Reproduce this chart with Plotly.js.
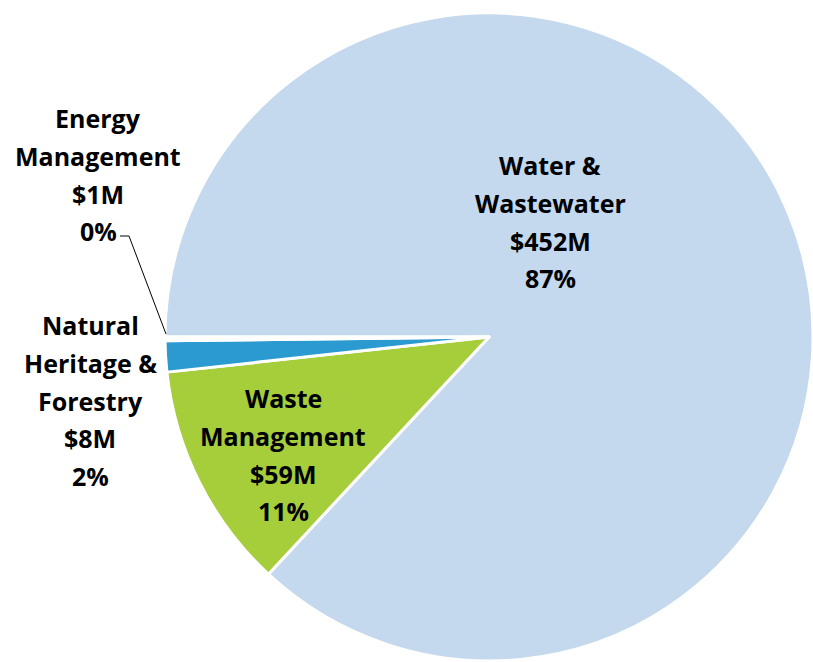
<!DOCTYPE html>
<html>
<head>
<meta charset="utf-8">
<script src="https://cdn.plot.ly/plotly-3.0.1.min.js"></script>
<style>html,body{margin:0;padding:0;background:#fff;}#chart{width:813px;height:662px;}</style>
</head>
<body>
<div id="chart"></div>
<script>
// ---- data ----
var categories = ['Water &<br>Wastewater', 'Waste<br>Management', 'Natural<br>Heritage &<br>Forestry', 'Energy<br>Management'];
var valuesM = [452, 59, 8, 1];
var sliceColors = ['#C4D9EE', '#A6CD3A', '#2B9AD0', '#FFFFFF'];

// ---- layout helpers (pixel positions of label blocks) ----
var W = 813, H = 662;
var labelPos = [
  {x: 550, y: 165},
  {x: 283, y: 398},
  {x: 90,  y: 325},
  {x: 98,  y: 118}
];
var lineStep = 37.8;
var total = valuesM.reduce(function(a, b){ return a + b; }, 0);

var annotations = [];
categories.forEach(function(cat, i){
  var lines = cat.split('<br>');
  lines.push('$' + valuesM[i] + 'M');
  lines.push(Math.round(valuesM[i] / total * 100) + '%');
  lines.forEach(function(t, k){
    annotations.push({
      text: t, xref: 'paper', yref: 'paper',
      x: labelPos[i].x / W, y: 1 - (labelPos[i].y + k * lineStep) / H,
      xanchor: 'center', yanchor: 'middle', showarrow: false,
      font: {family: 'Open Sans, sans-serif', size: 25, color: '#000000', weight: 'bold'}
    });
  });
});

function px(x){ return (x / W).toFixed(5); }
function py(y){ return (1 - y / H).toFixed(5); }
var leader = 'M ' + px(120) + ' ' + py(236) + ' L ' + px(129) + ' ' + py(236) + ' L ' + px(166) + ' ' + py(334);

var trace = {
  type: 'pie',
  labels: categories,
  values: valuesM,
  sort: false,
  direction: 'clockwise',
  rotation: 270,
  textinfo: 'none',
  hoverinfo: 'label+value+percent',
  marker: {colors: sliceColors, line: {color: '#FFFFFF', width: 3}},
  domain: {x: [165 / W, 1], y: [0.0, 0.982]},
  showlegend: false
};

var layout = {
  width: W, height: H,
  margin: {l: 0, r: 0, t: 0, b: 0},
  paper_bgcolor: '#FFFFFF',
  showlegend: false,
  annotations: annotations,
  shapes: [{type: 'path', xref: 'paper', yref: 'paper', path: leader, line: {color: '#000000', width: 1}}]
};

Plotly.newPlot('chart', [trace], layout, {displayModeBar: false, staticPlot: true});
</script>
</body>
</html>
